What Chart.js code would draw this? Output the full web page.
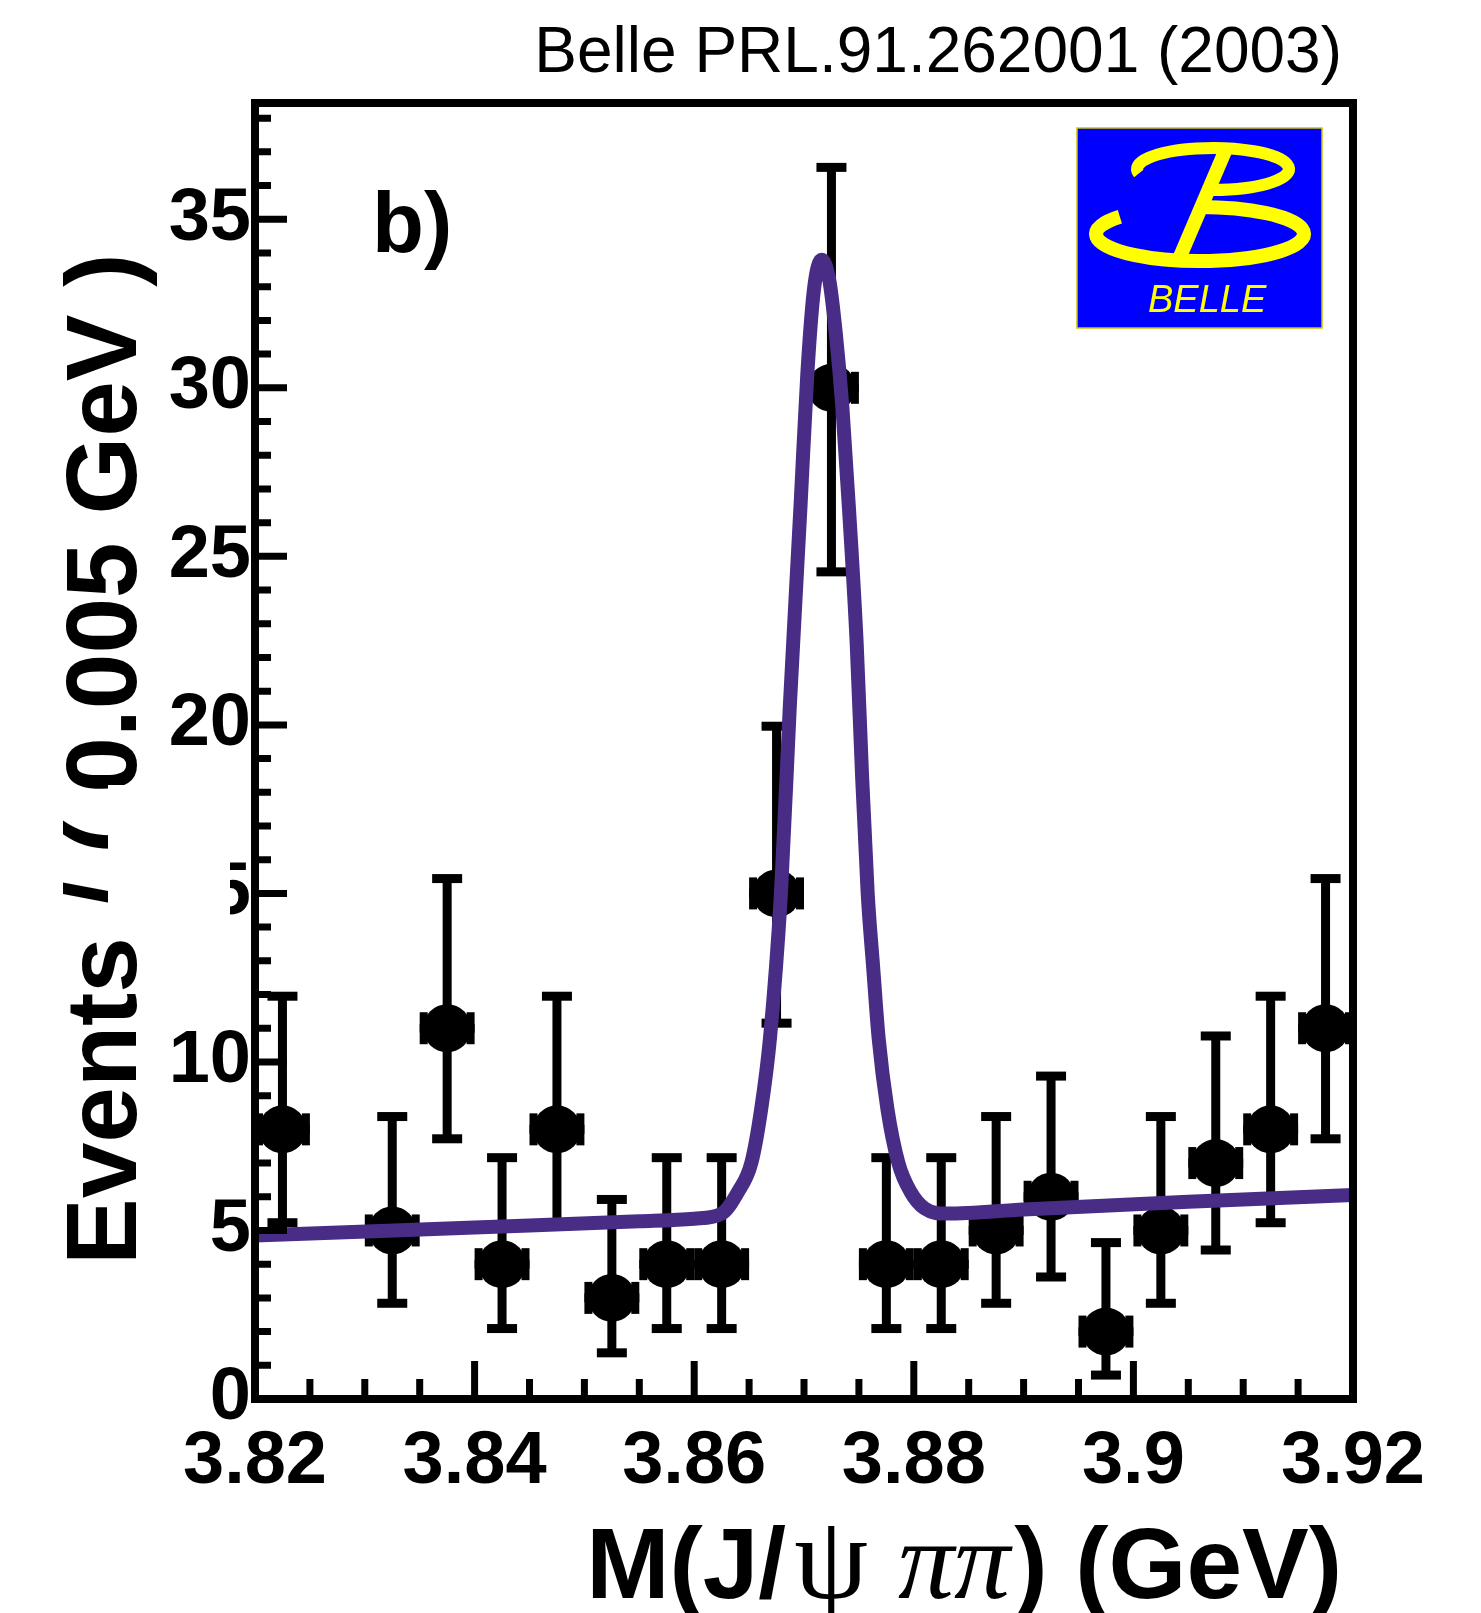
<!DOCTYPE html>
<html>
<head>
<meta charset="utf-8">
<title>Belle M(J/psi pi pi)</title>
<script src="https://cdn.jsdelivr.net/npm/chart.js@4.4.1/dist/chart.umd.min.js"></script>
<style>
  html, body { margin: 0; padding: 0; background: #fff; }
  #wrap { width: 1481px; height: 1613px; }
</style>
</head>
<body>
<div id="wrap"><canvas id="massPlot" width="1481" height="1613"></canvas></div>
<script>
// --- data ---
const binCenters = [3.8225, 3.8325, 3.8375, 3.8425, 3.8475, 3.8525, 3.8575, 3.8625, 3.8675, 3.8725,
                    3.8775, 3.8825, 3.8875, 3.8925, 3.8975, 3.9025, 3.9075, 3.9125, 3.9175];
const counts     = [8, 5, 11, 4, 8, 3, 4, 4, 15, 30, 4, 4, 5, 6, 2, 5, 7, 8, 11];
const errLow     = [2.77, 2.16, 3.28, 1.91, 2.77, 1.63, 1.91, 1.91, 3.85, 5.46,
                    1.91, 1.91, 2.16, 2.38, 1.29, 2.16, 2.58, 2.77, 3.28];
const errHigh    = [3.95, 3.38, 4.44, 3.16, 3.95, 2.92, 3.16, 3.16, 4.96, 6.54,
                    3.16, 3.16, 3.38, 3.58, 2.64, 3.38, 3.77, 3.95, 4.44];
const binHalfWidth = 0.0025;

// fit curve, points
const fitX = [3.820, 3.840, 3.855, 3.860, 3.8625, 3.8640, 3.8652, 3.8661, 3.8669, 3.8679, 3.8687,
              3.8697, 3.8703, 3.8709, 3.8716, 3.8723, 3.8729, 3.8735, 3.8741, 3.8748, 3.8753,
              3.8758, 3.8763, 3.8768, 3.8776, 3.8786, 3.8797, 3.8810, 3.8830, 3.890, 3.905, 3.920];
const fitY = [4.85, 5.09, 5.27, 5.35, 5.5, 6.15, 7.0, 8.6, 10.7, 15.0, 20.5,
              26.6, 30.4, 32.9, 33.8, 33.2, 31.6, 29.4, 26.4, 22.4, 18.4,
              15.0, 12.8, 10.7, 8.6, 7.0, 6.15, 5.65, 5.5, 5.62, 5.85, 6.05];

const xTicks = [3.82, 3.84, 3.86, 3.88, 3.90, 3.92];
const xTickLabels = ["3.82", "3.84", "3.86", "3.88", "3.9", "3.92"];
const yTicks = [0, 5, 10, 15, 20, 25, 30, 35];

const SANS = '"Liberation Sans", Arial, Helvetica, sans-serif';
const SERIF = '"Liberation Serif", "DejaVu Serif", serif';
const FIT_COLOR = "#482c86";

function drawErrorBars(chart){
  const { ctx, scales: { x, y } } = chart;
  const lw = 9, cap = 15, hcap = 16, hcw = 8;
  ctx.save();
  ctx.fillStyle = "#000";
  binCenters.forEach((c, i) => {
    const px = x.getPixelForValue(c);
    const py = y.getPixelForValue(counts[i]);
    const top = y.getPixelForValue(counts[i] + errHigh[i]);
    const bot = y.getPixelForValue(counts[i] - errLow[i]);
    const left = x.getPixelForValue(c - binHalfWidth);
    const right = x.getPixelForValue(c + binHalfWidth);
    ctx.fillRect(px - lw/2, top, lw, bot - top);
    ctx.fillRect(px - cap, top - lw/2, 2*cap, lw);
    ctx.fillRect(px - cap, bot - lw/2, 2*cap, lw);
    ctx.fillRect(left, py - lw/2, right - left, lw);
    ctx.fillRect(left, py - hcap, hcw, 2*hcap);
    ctx.fillRect(right - hcw, py - hcap, hcw, 2*hcap);
  });
  ctx.restore();
}

function drawFrame(chart){
  const { ctx, chartArea: a, scales: { x, y } } = chart;
  ctx.save();
  ctx.strokeStyle = "#000";
  ctx.lineWidth = 7;
  ctx.lineCap = "butt";
  ctx.beginPath();
  // y ticks, inward
  for (let v = 0; v <= y.max; v += 1){
    const py = y.getPixelForValue(v);
    const len = (v % 5 === 0) ? 32 : 16;
    ctx.moveTo(a.left, py); ctx.lineTo(a.left + len, py);
  }
  // x ticks, inward
  for (let k = 0; k <= 20; k++){
    const v = 3.82 + k * 0.005;
    const px = x.getPixelForValue(v);
    const len = (k % 4 === 0) ? 38 : 20;
    ctx.moveTo(px, a.bottom); ctx.lineTo(px, a.bottom - len);
  }
  ctx.stroke();
  ctx.lineWidth = 8;
  ctx.strokeRect(a.left, a.top, a.right - a.left, a.bottom - a.top);
  ctx.restore();
}

function drawLogo(ctx){
  const L = 1077, T = 128, W = 245, H = 200;
  ctx.save();
  ctx.fillStyle = "#0000ff";
  ctx.fillRect(L, T, W, H);
  ctx.strokeStyle = "#cfc400";
  ctx.lineWidth = 1.5;
  ctx.strokeRect(L, T, W, H);
  ctx.strokeStyle = "#ffff00";
  ctx.fillStyle = "#ffff00";
  ctx.lineCap = "butt";
  ctx.lineWidth = 12;
  ctx.beginPath();
  ctx.ellipse(1213, 169, 76, 21, 0, 0.93*Math.PI, 2.5*Math.PI);
  ctx.stroke();
  ctx.lineWidth = 14;
  ctx.beginPath();
  ctx.ellipse(1200, 234, 104, 27, 0, 1.22*Math.PI, 1.5*Math.PI, true);
  ctx.stroke();
  ctx.lineWidth = 14;
  ctx.beginPath();
  ctx.moveTo(1226, 149); ctx.lineTo(1179, 259);
  ctx.stroke();
  ctx.font = "italic 38px " + SANS;
  ctx.textAlign = "left";
  ctx.textBaseline = "alphabetic";
  ctx.fillText("BELLE", 1148, 312);
  ctx.restore();
}

function drawTexts(chart){
  const ctx = chart.ctx;
  ctx.save();
  ctx.fillStyle = "#000";
  ctx.textBaseline = "alphabetic";

  // y title
  ctx.save();
  ctx.translate(136, 1265);
  ctx.rotate(-Math.PI/2);
  ctx.font = "bold 100px " + SANS;
  ctx.textAlign = "left";
  ctx.fillText("Events / ( 0.005 GeV )", 0, 0);
  ctx.restore();

  // white patch that hides part of the label area, as in the figure
  ctx.fillStyle = "#fff";
  ctx.fillRect(108, 785, 122, 145);
  ctx.fillStyle = "#000";

  // x title with mixed fonts
  const parts = [
    { t: "M(J/", f: "bold 100px " + SANS, gap: 8 },
    { t: "\u03c8", f: "118px " + SERIF, gap: 30 },
    { t: "\u03c0\u03c0", f: "italic 112px " + SERIF, gap: 4 },
    { t: ") (GeV)", f: "bold 100px " + SANS, gap: 0 }
  ];
  let total = 0;
  parts.forEach(p => { ctx.font = p.f; p.w = ctx.measureText(p.t).width; total += p.w + p.gap; });
  let cx = 1342 - total;
  ctx.textAlign = "left";
  parts.forEach(p => { ctx.font = p.f; ctx.fillText(p.t, cx, 1598); cx += p.w + p.gap; });

  // publication tag
  ctx.font = "64px " + SANS;
  ctx.textAlign = "right";
  ctx.fillText("Belle PRL.91.262001 (2003)", 1342, 72);

  // panel label
  ctx.font = "bold 85px " + SANS;
  ctx.textAlign = "left";
  ctx.fillText("b)", 372, 252);
  ctx.restore();

  drawLogo(ctx);
}

const rootStyle = {
  id: "rootStyle",
  beforeDatasetsDraw(chart){ drawErrorBars(chart); },
  afterDatasetsDraw(chart){ drawFrame(chart); },
  afterDraw(chart){ drawTexts(chart); }
};

const tickFont = { family: SANS, size: 74, weight: "bold" };

new Chart(document.getElementById("massPlot"), {
  type: "scatter",
  data: {
    datasets: [
      {
        label: "fit",
        type: "line",
        data: fitX.map((v, i) => ({ x: v, y: fitY[i] })),
        borderColor: FIT_COLOR,
        borderWidth: 14,
        pointRadius: 0,
        fill: false,
        cubicInterpolationMode: "monotone",
        order: 1
      },
      {
        label: "data",
        data: binCenters.map((v, i) => ({ x: v, y: counts[i] })),
        pointRadius: 24,
        pointBackgroundColor: "#000",
        pointBorderWidth: 0,
        order: 2
      }
    ]
  },
  options: {
    responsive: false,
    animation: false,
    devicePixelRatio: 1,
    layout: { padding: { top: 103, right: 128, left: 0, bottom: 0 } },
    plugins: { legend: { display: false }, tooltip: { enabled: false } },
    scales: {
      x: {
        type: "linear",
        min: 3.82, max: 3.92,
        grid: { display: false, drawTicks: false },
        border: { display: false },
        afterBuildTicks: s => { s.ticks = xTicks.map(v => ({ value: v })); },
        afterFit: s => { s.height = 214; },
        ticks: {
          font: tickFont, color: "#000", padding: 19,
          maxRotation: 0, minRotation: 0, autoSkip: false,
          callback: (v, i) => xTickLabels[i]
        }
      },
      y: {
        type: "linear",
        min: 0, max: 38.45,
        grid: { display: false, drawTicks: false },
        border: { display: false },
        afterBuildTicks: s => { s.ticks = yTicks.map(v => ({ value: v })); },
        afterFit: s => { s.width = 255; },
        ticks: {
          font: tickFont, color: "#000", padding: 4, autoSkip: false,
          callback: v => String(v)
        }
      }
    }
  },
  plugins: [rootStyle]
});
</script>
</body>
</html>
